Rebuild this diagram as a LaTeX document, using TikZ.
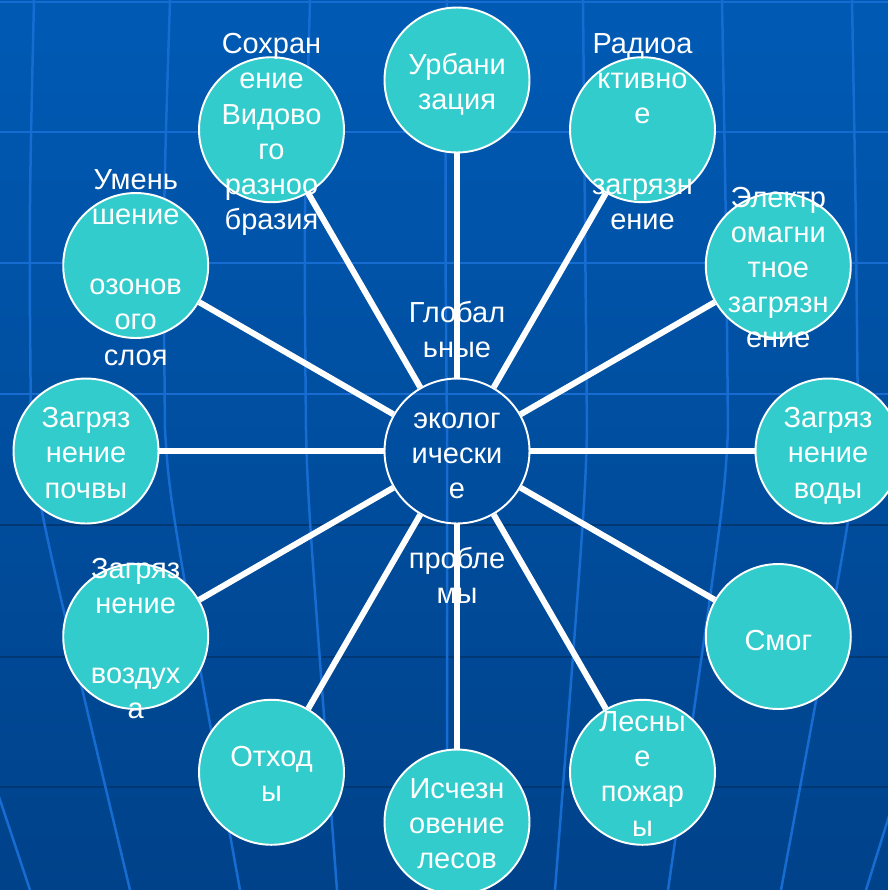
\documentclass[tikz,border=0pt]{standalone}
\usepackage{fontspec}
\setmainfont{Liberation Sans}
\definecolor{sea}{RGB}{51,204,204}
\definecolor{deeptop}{RGB}{0,90,180}
\definecolor{deepbot}{RGB}{0,66,138}
\definecolor{gridlight}{RGB}{22,108,208}
\definecolor{griddark}{RGB}{0,56,116}
\tikzset{
  bubble/.style = {circle, fill=sea, draw=white, line width=1.1pt,
    minimum size=2.9cm, inner sep=0pt},% problem circle
  hub/.style = {circle, draw=white, line width=1.1pt,
    minimum size=2.9cm, inner sep=0pt},% centre circle, no fill
  caption/.style = {align=center, inner sep=0pt, text=white, yshift=-4pt,
    font=\fontsize{16.5}{20}\selectfont,
    execute at begin node=\strut, execute at end node=\strut},% text over circle
  spoke/.style = {draw=white, line width=0.12cm},% connector
  meridian/.style = {draw=gridlight, line width=0.05cm}% globe line
}

\begin{document}
\begin{tikzpicture}[x=0.02cm, y=-0.02cm]
\useasboundingbox (0,0) rectangle (888,890);
\clip (0,0) rectangle (888,890);
% background
\fill[top color=deeptop, bottom color=deepbot] (0,0) rectangle (888,890);
\foreach \gy in {2,132,263,394}
  \draw[gridlight, line width=0.05cm] (0,\gy) -- (888,\gy);
\foreach \gy in {525,657,787}
  \draw[griddark, line width=0.05cm] (0,\gy) -- (888,\gy);
\foreach \xt/\xm/\xb in {-105/-108/30, 34/31/130, 170/165/240, 310/306/337,
    447/447/447, 583/587/555, 722/728/668, 852/858/781, 990/995/866}
  \draw[meridian] (\xt,0) .. controls ({\xm-2},220) .. (\xm,430)
    .. controls ({\xm+0.06*(\xb-\xm)},500) .. (\xb,890);

% circles
\node[hub] (hub) at (457,451) {};
\foreach \a/\n in {90/urban, 60/radio, 30/emf, 0/water, -30/smog, -60/fire,
    -90/forest, -120/waste, -150/air, 180/soil, 150/ozone, 120/species}
  \node[bubble] (\n) at ({457+371*cos(\a)},{451-371*sin(\a)}) {};
\foreach \n in {urban, radio, emf, water, smog, fire,
    forest, waste, air, soil, ozone, species}
  \draw[spoke] (hub) -- (\n);

% texts
\node[caption] at (hub) {Глобал\\ьные\\~\\эколог\\ически\\е\\~\\пробле\\мы};
\foreach \n/\t in {urban/{Урбани\\зация},
    radio/{Радиоа\\ктивно\\е\\~\\загрязн\\ение},
    emf/{Электр\\омагни\\тное\\загрязн\\ение},
    water/{Загряз\\нение\\воды},
    smog/{Смог},
    fire/{Лесны\\е\\пожар\\ы},
    forest/{Исчезн\\овение\\лесов},
    waste/{Отход\\ы},
    air/{Загряз\\нение\\~\\воздух\\а},
    soil/{Загряз\\нение\\почвы},
    ozone/{Умень\\шение\\~\\озонов\\ого\\слоя},
    species/{Сохран\\ение\\Видово\\го\\разноо\\бразия}}
  \node[caption] at (\n) {\t};
\end{tikzpicture}
\end{document}
